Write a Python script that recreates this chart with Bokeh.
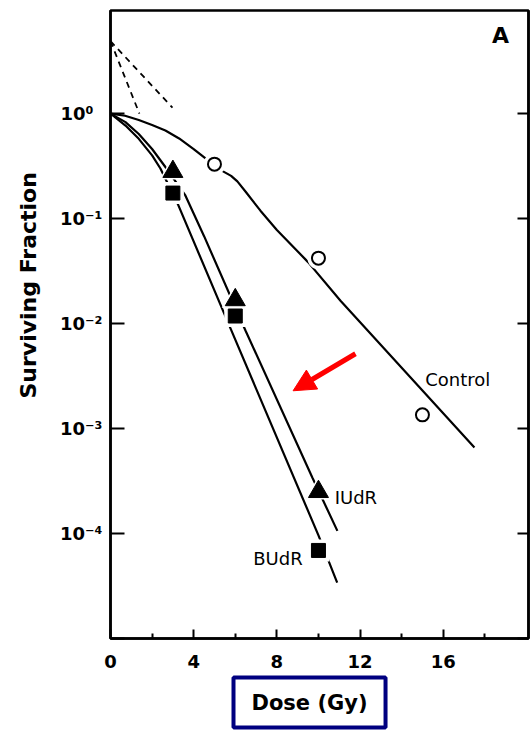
from bokeh.plotting import figure
from bokeh.models import Label, LogAxis, FixedTicker, Arrow, NormalHead, Title
from bokeh.embed import file_html
from bokeh.resources import INLINE

# Measured surviving fractions (dose in Gy)
control_dose = [5, 10, 15]
control_sf = [0.33, 0.042, 0.00135]
iudr_dose = [3, 6, 10]
iudr_sf = [0.28, 0.0168, 0.00025]
budr_dose = [3, 6, 10]
budr_sf = [0.175, 0.0118, 0.000069]

# Fitted survival curves
control_fit_dose = [0, 0.7, 1.36, 2.0, 2.64, 3.3, 4.0, 4.8, 5.37, 5.8, 6.1, 6.5, 7.21, 8.0, 9.5, 11.06, 15.0, 17.5]
control_fit_sf = [1.0, 0.955, 0.87, 0.78, 0.69, 0.58, 0.46, 0.345, 0.285, 0.255, 0.226, 0.18, 0.119, 0.078, 0.0385, 0.0165, 0.0023, 0.00066]
iudr_fit_dose = [0, 0.72, 1.36, 2.0, 2.64, 3.6, 4.5, 6.49, 9.71, 10.91]
iudr_fit_sf = [1.0, 0.83, 0.64, 0.46, 0.31, 0.166, 0.068, 0.0086, 0.00034, 0.000106]
budr_fit_dose = [0, 0.72, 1.36, 2.0, 2.4, 3.27, 5.77, 10.01, 10.9]
budr_fit_sf = [1.0, 0.77, 0.575, 0.40, 0.30, 0.133, 0.009, 0.000095, 0.000034]

# Extrapolations of the exponential parts back to zero dose
extrap_treated_dose = [0, 1.39]
extrap_treated_sf = [4.9, 1.0]
extrap_control_dose = [0, 2.98]
extrap_control_sf = [4.9, 1.14]

# Axis ticks and labels
x_ticks = [0, 4, 8, 12, 16]
x_minor_ticks = [2, 6, 10, 14, 18]
y_ticks = [1e-5, 1e-4, 1e-3, 1e-2, 1e-1, 1]
y_tick_labels = ["", "10\u207b\u2074", "10\u207b\u00b3", "10\u207b\u00b2", "10\u207b\u00b9", "10\u2070\u2002"]

FONT = "DejaVu Sans"

p = figure(width=530, height=733, x_range=(0, 20.1), y_range=(1e-5, 9.6),
           y_axis_type="log", output_backend="svg", toolbar_location=None,
           min_border_left=110, min_border_right=2, min_border_top=10,
           min_border_bottom=95)
p.grid.visible = False
p.background_fill_color = "white"
p.border_fill_color = "white"
p.outline_line_color = "black"
p.outline_line_width = 2.5

# bottom axis
xa = p.xaxis[0]
xa.ticker = FixedTicker(ticks=x_ticks, minor_ticks=x_minor_ticks)
xa.axis_line_width = 2.5
xa.major_tick_in = 9
xa.major_tick_out = 0
xa.minor_tick_in = 5
xa.minor_tick_out = 0
xa.major_tick_line_width = 2
xa.minor_tick_line_width = 2
xa.major_label_text_font = FONT
xa.major_label_text_font_style = "bold"
xa.major_label_text_font_size = "18px"
xa.major_label_text_color = "black"
xa.major_label_standoff = 16

# left axis: decades with inward ticks
ya = p.yaxis[0]
ya.ticker = FixedTicker(ticks=y_ticks, minor_ticks=[])
ya.axis_line_width = 2.5
ya.major_tick_in = 14
ya.major_tick_out = 0
ya.major_tick_line_width = 2
ya.minor_tick_line_color = None
ya.major_label_overrides = dict(zip(y_ticks, y_tick_labels))
ya.major_label_text_font = FONT
ya.major_label_text_font_style = "bold"
ya.major_label_text_font_size = "18px"
ya.major_label_text_color = "black"
ya.major_label_standoff = 8

# right axis: ticks only
ra = LogAxis(ticker=FixedTicker(ticks=y_ticks, minor_ticks=[]),
             major_tick_in=11, major_tick_out=0, major_tick_line_width=2,
             minor_tick_line_color=None, axis_line_width=2.5,
             major_label_overrides={t: "" for t in y_ticks},
             major_label_text_font_size="1px", major_label_text_alpha=0,
             major_label_standoff=0)
p.add_layout(ra, "right")

# axis titles
p.add_layout(Title(text="Surviving Fraction", align="left", offset=240, standoff=29,
                   vertical_align="top",
                   text_font=FONT, text_font_style="bold", text_font_size="22px",
                   text_color="black"), "left")
p.add_layout(Title(text="Dose (Gy)", align="left", offset=123, standoff=10,
                   text_font=FONT, text_font_style="bold", text_font_size="21px",
                   text_color="black", border_line_color="#000080",
                   border_line_width=4, padding=(18, 13)), "below")

# curves
p.line(extrap_treated_dose, extrap_treated_sf, line_color="black", line_width=1.8, line_dash="6 5")
p.line(extrap_control_dose, extrap_control_sf, line_color="black", line_width=1.8, line_dash="6 5")
p.line(control_fit_dose, control_fit_sf, line_color="black", line_width=2.2)
p.line(iudr_fit_dose, iudr_fit_sf, line_color="black", line_width=2.2)
p.line(budr_fit_dose, budr_fit_sf, line_color="black", line_width=2.2)

# white halos so the curves break around the symbols
p.scatter(control_dose, control_sf, marker="circle", size=22, fill_color="white", line_color=None)
p.scatter(iudr_dose, iudr_sf, marker="triangle", size=27, fill_color="white", line_color=None)
p.scatter(budr_dose, budr_sf, marker="square", size=22, fill_color="white", line_color=None)

# data symbols
p.scatter(control_dose, control_sf, marker="circle", size=13, fill_color="white",
          line_color="black", line_width=2)
p.scatter(iudr_dose, iudr_sf, marker="triangle", size=20, fill_color="black", line_color="black")
p.scatter(budr_dose, budr_sf, marker="square", size=14, fill_color="black", line_color="black")

# series labels and panel letter
for txt, xv, yv in [("Control", 16.7, 0.00292), ("IUdR", 11.8, 0.000222), ("BUdR", 8.05, 0.0000578)]:
    p.add_layout(Label(x=xv, y=yv, text=txt, text_align="center", text_baseline="middle",
                       text_font=FONT, text_font_size="18px", text_color="black"))
p.add_layout(Label(x=18.75, y=5.55, text="A", text_align="center", text_baseline="middle",
                   text_font=FONT, text_font_style="bold", text_font_size="22px",
                   text_color="black"))

# red arrow
p.add_layout(Arrow(x_start=11.78, y_start=0.00516, x_end=8.78, y_end=0.00229,
                   line_color="red", line_width=5,
                   end=NormalHead(size=22, fill_color="red", line_color="red")))

open("out.html", "w").write(file_html(p, INLINE))
